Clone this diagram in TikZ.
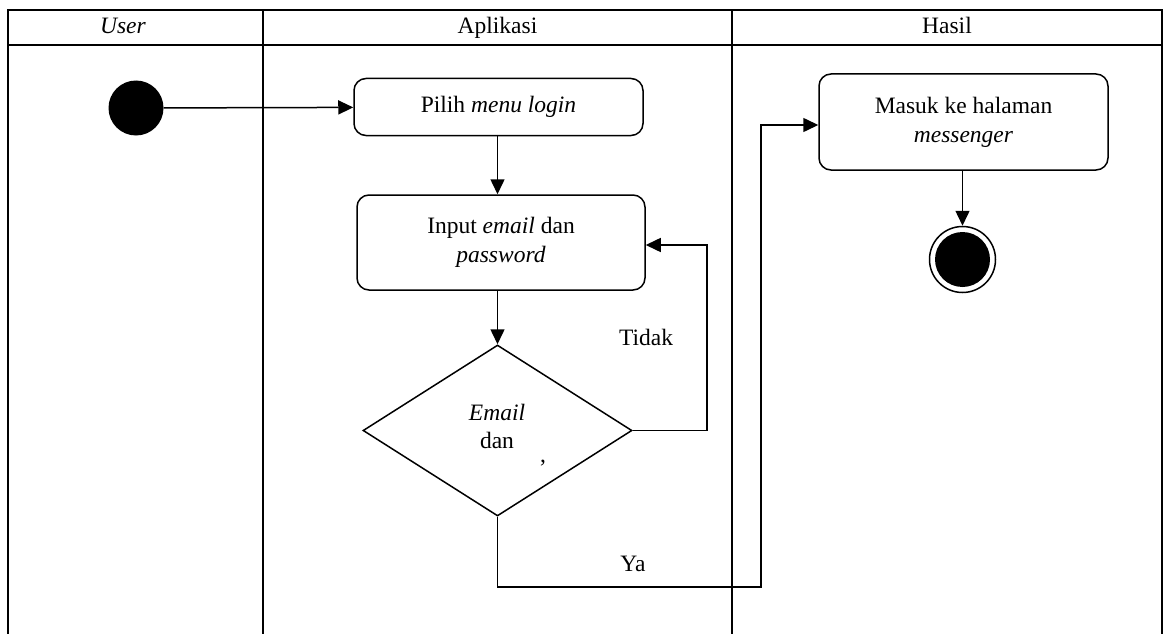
\documentclass[tikz,border=0pt]{standalone}
\usepackage{fontspec}
\setmainfont{Liberation Serif}
\usetikzlibrary{shapes.geometric,arrows.meta}

\begin{document}
\begin{tikzpicture}[x=1pt,y=-1pt,
  font=\fontsize{23.5}{29}\selectfont,
  grid/.style={line width=2pt},
  flow/.style={line width=1.5pt,-{Triangle[length=15pt,width=14pt]}},
  act/.style={draw,line width=1.5pt,rounded corners=12pt,align=center,inner sep=0pt},
  startdot/.style={circle,fill=black,minimum size=55pt,inner sep=0pt},
  decision/.style={diamond,draw,line width=1.5pt,inner sep=0pt,minimum width=269pt,minimum height=171pt},
  lbl/.style={inner sep=0pt,anchor=base}
]
\useasboundingbox (0,0) rectangle (1165,634);

% swimlane frame
\draw[grid] (8,634) -- (8,10) -- (1162,10) -- (1162,634);
\draw[grid] (8,45) -- (1162,45);
\draw[grid] (263,10) -- (263,634);
\draw[grid] (732,10) -- (732,634);

% lane headings
\node[lbl] (hUser) at (123,34) {\textit{User}};
\node[lbl] (hApp) at (497.5,34) {Aplikasi};
\node[lbl] (hRes) at (947,34) {Hasil};

% activities
\node[startdot] (start) at (136,108) {};
\node[act,minimum width=289pt,minimum height=57pt] (pilih) at (498.5,107) {Pilih \textit{menu login}};
\node[act,minimum width=288pt,minimum height=95pt] (input) at (501,242.5) {Input \textit{email} dan\\\textit{password}};
\node[decision] (dec) at (497.5,430.5) {};
\node[lbl] (decA) at (497,420) {\textit{Email}};
\node[lbl] (decB) at (497,448) {dan};
\node[lbl] (decC) at (543,462) {,};
\node[act,minimum width=289pt,minimum height=96pt] (msg) at (963.5,122) {Masuk ke halaman\\\textit{messenger}};
\node[circle,draw,line width=1.5pt,minimum size=66pt,inner sep=0pt] (endo) at (962.5,259.5) {};
\node[startdot] (endi) at (962.5,259.5) {};

% flow
\draw[flow] (start) -- (pilih);
\draw[flow] (dec.north |- pilih.south) -- (dec.north |- input.north);
\draw[flow] (dec.north |- input.south) -- (dec.north);

\coordinate (tk) at (707,245);
\draw[flow] (dec.east) -| (tk) -- (input.east |- tk);
\node[lbl] (tidak) at (646,345) {Tidak};

\coordinate (ya1) at (497.5,587);
\coordinate (ya2) at (761,587);
\coordinate (ya3) at (761,125);
\draw[flow] (dec.south) -- (ya1) -- (ya2) -- (ya3) -- (msg.west |- ya3);
\node[lbl] (ya) at (633,571) {Ya};

\draw[flow] (msg.south -| endo.north) -- (endo.north);
\end{tikzpicture}
\end{document}
